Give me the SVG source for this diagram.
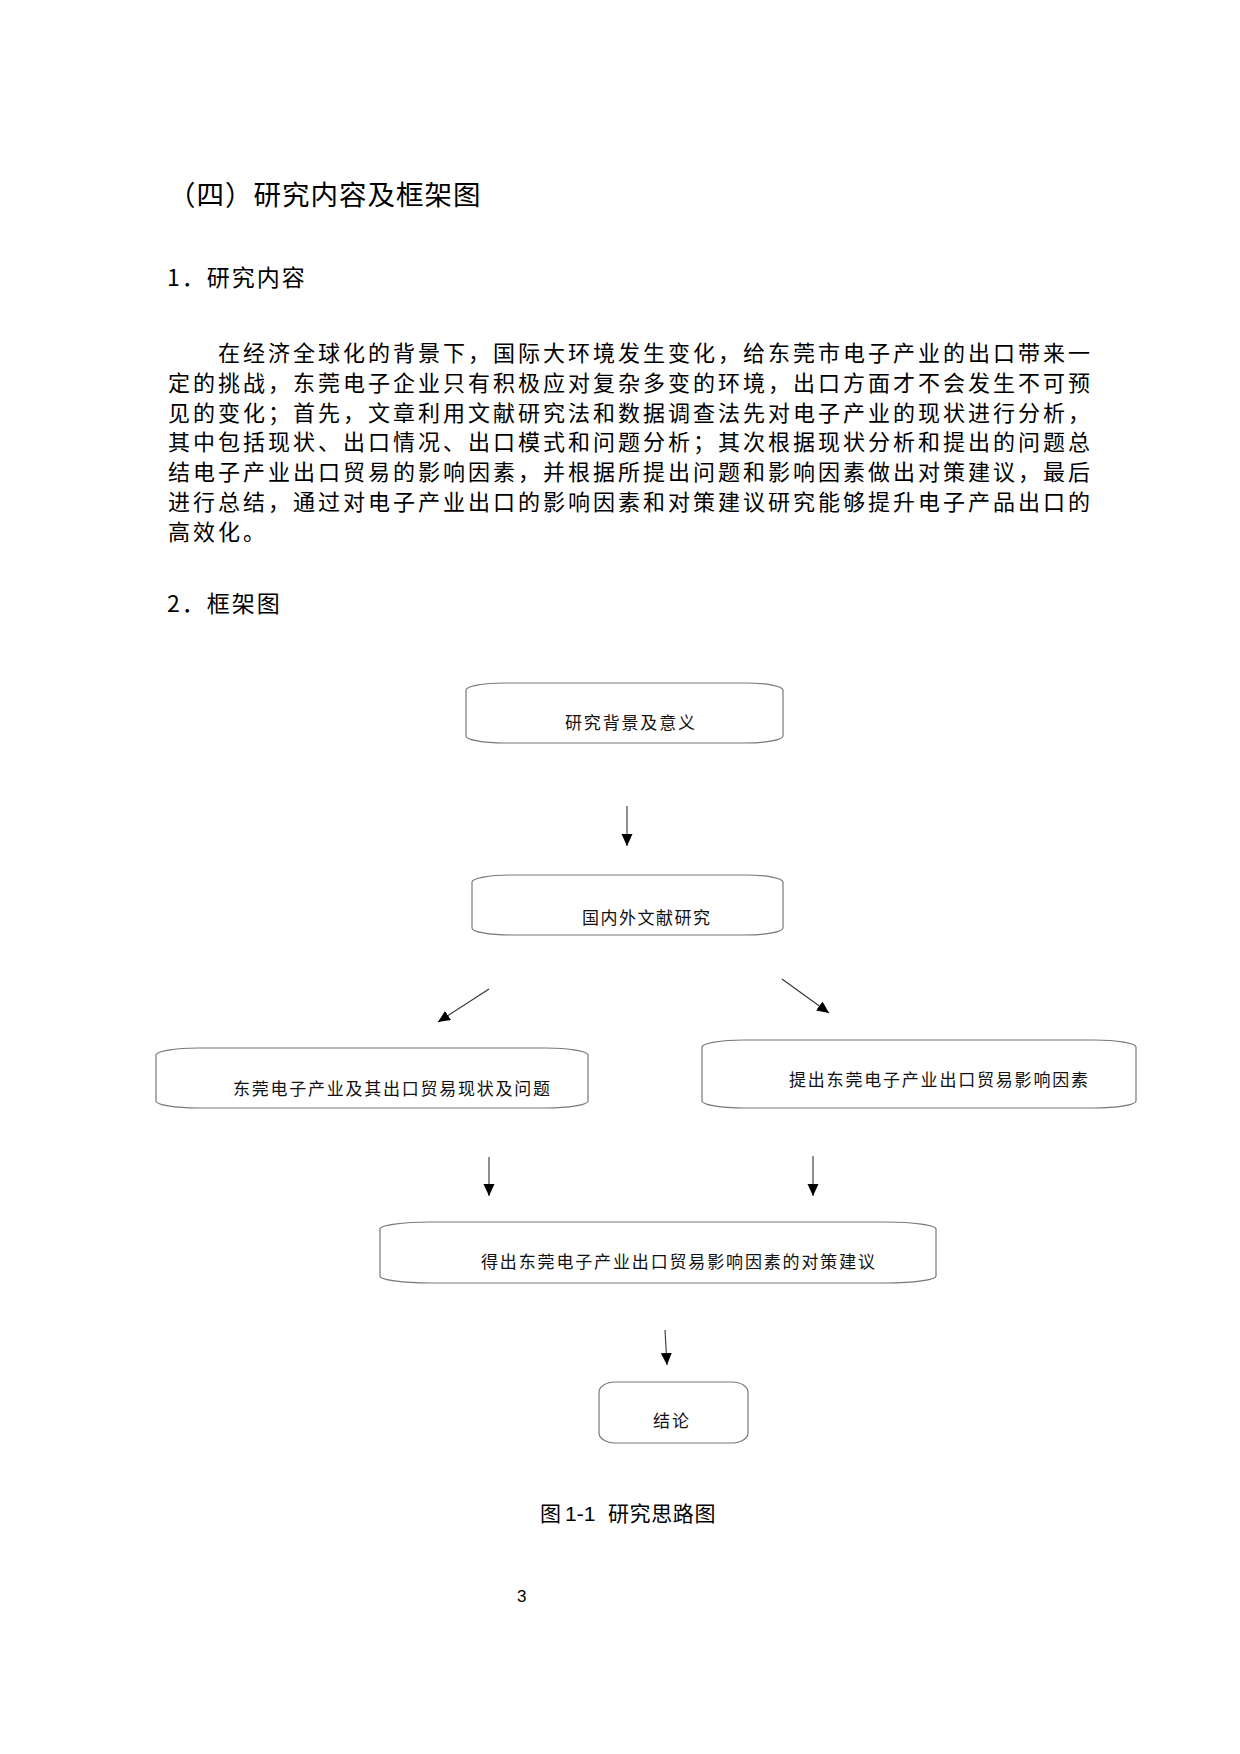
<svg xmlns="http://www.w3.org/2000/svg" width="1240" height="1754" viewBox="0 0 1240 1754">
<style>
.hd{font-family:"Noto Sans CJK SC","Liberation Sans",sans-serif;fill:#000}
.body{font-family:"Noto Sans CJK SC","Liberation Sans",sans-serif;font-size:22px;letter-spacing:3px;fill:#000}
.box{fill:#fff;stroke:#777;stroke-width:1.2}
.lbl{font-family:"Noto Sans CJK SC","Liberation Sans",sans-serif;font-size:17px;fill:#111}
.conn line{stroke:#333;stroke-width:1.1}
</style>
<defs>
<marker id="ah" markerUnits="userSpaceOnUse" markerWidth="13" markerHeight="12" refX="12" refY="5.5" orient="auto">
<path d="M0,0 L12,5.5 L0,11 z" fill="#000"/>
</marker>
</defs>
<rect width="1240" height="1754" fill="#fff"/>

<text class="hd" x="168" y="205" font-size="27.5" letter-spacing="1">（四）研究内容及框架图</text>
<text class="hd" x="167" y="286" font-size="23" letter-spacing="2">1．研究内容</text>

<g id="paragraph">
<text class="body" x="218" y="361">在经济全球化的背景下，国际大环境发生变化，给东莞市电子产业的出口带来一</text>
<text class="body" x="168" y="391">定的挑战，东莞电子企业只有积极应对复杂多变的环境，出口方面才不会发生不可预</text>
<text class="body" x="168" y="420.5">见的变化；首先，文章利用文献研究法和数据调查法先对电子产业的现状进行分析，</text>
<text class="body" x="168" y="450">其中包括现状、出口情况、出口模式和问题分析；其次根据现状分析和提出的问题总</text>
<text class="body" x="168" y="480">结电子产业出口贸易的影响因素，并根据所提出问题和影响因素做出对策建议，最后</text>
<text class="body" x="168" y="510">进行总结，通过对电子产业出口的影响因素和对策建议研究能够提升电子产品出口的</text>
<text class="body" x="168" y="540">高效化。</text>
</g>

<text class="hd" x="167" y="612" font-size="23" letter-spacing="2">2．框架图</text>

<g id="n1">
<rect class="box" x="466" y="683" width="317" height="60" rx="38" ry="7"/>
<text class="lbl" x="565" y="728.5" textLength="130" lengthAdjust="spacing">研究背景及意义</text>
</g>
<g id="n2">
<rect class="box" x="472" y="875" width="311" height="60" rx="38" ry="7"/>
<text class="lbl" x="582" y="923.5" textLength="128" lengthAdjust="spacing">国内外文献研究</text>
</g>
<g id="n3">
<rect class="box" x="156" y="1048" width="432" height="60" rx="42" ry="7"/>
<text class="lbl" x="233" y="1094.5" textLength="317" lengthAdjust="spacing">东莞电子产业及其出口贸易现状及问题</text>
</g>
<g id="n4">
<rect class="box" x="702" y="1040" width="434" height="68" rx="42" ry="7"/>
<text class="lbl" x="789" y="1085.5" textLength="299" lengthAdjust="spacing">提出东莞电子产业出口贸易影响因素</text>
</g>
<g id="n5">
<rect class="box" x="380" y="1222" width="556" height="61" rx="50" ry="7"/>
<text class="lbl" x="481" y="1267.5" textLength="394" lengthAdjust="spacing">得出东莞电子产业出口贸易影响因素的对策建议</text>
</g>
<g id="n6">
<rect class="box" x="599" y="1382" width="149" height="61" rx="16" ry="10"/>
<text class="lbl" x="653" y="1426.5" textLength="36" lengthAdjust="spacing">结论</text>
</g>

<g id="connectors" class="conn">
<line x1="627" y1="806" x2="627" y2="846" marker-end="url(#ah)"/>
<line x1="489" y1="989" x2="438" y2="1022" marker-end="url(#ah)"/>
<line x1="782" y1="979" x2="829" y2="1013" marker-end="url(#ah)"/>
<line x1="489" y1="1157" x2="489" y2="1196" marker-end="url(#ah)"/>
<line x1="813" y1="1156" x2="813" y2="1196" marker-end="url(#ah)"/>
<line x1="665" y1="1330" x2="667" y2="1365" marker-end="url(#ah)"/>
</g>

<text class="hd" y="1521" font-size="21"><tspan x="540">图</tspan><tspan x="565" font-family="Liberation Sans, sans-serif">1-1</tspan><tspan x="608" letter-spacing="0.6">研究思路图</tspan></text>
<text x="517" y="1602" font-family="Liberation Sans, sans-serif" font-size="17" fill="#000">3</text>
</svg>
